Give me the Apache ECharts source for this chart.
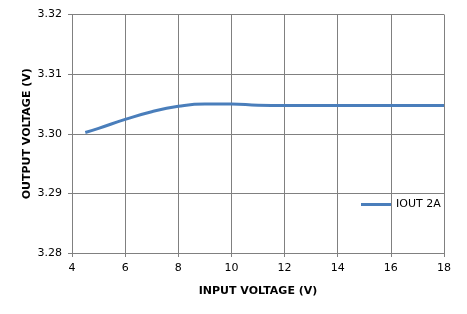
<!DOCTYPE html>
<html><head><meta charset="utf-8">
<script src="https://cdn.jsdelivr.net/npm/echarts@6/dist/echarts.min.js"></script>
<style>html,body{margin:0;padding:0;background:#fff}#c{width:467px;height:314px}</style>
</head><body><div id="c"></div>
<script>
const seriesName = 'IOUT 2A';
const inputVoltage = [4.5, 5, 6, 7, 8, 9, 10, 11, 12, 13, 14, 15, 16, 17, 18];
const outputVoltage = [3.3002, 3.3009, 3.3024, 3.3037, 3.3046, 3.3050, 3.3050, 3.3048, 3.30475, 3.30475, 3.30475, 3.30475, 3.30475, 3.30475, 3.30475];
const xTitle = 'INPUT VOLTAGE (V)';
const yTitle = 'OUTPUT VOLTAGE (V)';

const chart = echarts.init(document.getElementById('c'));
const font = 'Tahoma, "DejaVu Sans", sans-serif';
chart.setOption({
  animation: false,
  grid: {left: 72, top: 14.5, width: 372, height: 238.5, containLabel: false},
  xAxis: {
    type: 'value', min: 4, max: 18, interval: 2,
    name: xTitle, nameLocation: 'middle', nameGap: 33,
    nameTextStyle: {fontFamily: font, fontSize: 11, fontWeight: 'bold', color: '#000'},
    axisLine: {show: false},
    axisTick: {show: true, length: 4, lineStyle: {color: '#808080'}},
    axisLabel: {fontFamily: font, fontSize: 11, color: '#000', margin: 10},
    splitLine: {show: true, lineStyle: {color: '#808080', width: 1}}
  },
  yAxis: {
    type: 'value', min: 3.28, max: 3.32, interval: 0.01,
    name: yTitle, nameLocation: 'middle', nameGap: 39, nameMoveOverlap: false,
    nameTextStyle: {fontFamily: font, fontSize: 11, fontWeight: 'bold', color: '#000'},
    axisLine: {show: false},
    axisTick: {show: true, length: 4, lineStyle: {color: '#808080'}},
    axisLabel: {fontFamily: font, fontSize: 11, color: '#000', margin: 10, formatter: v => v.toFixed(2)},
    splitLine: {show: true, lineStyle: {color: '#808080', width: 1}}
  },
  legend: {
    left: 361, top: 199, padding: 0, itemWidth: 30, itemHeight: 3, itemGap: 0,
    icon: 'rect',
    textStyle: {fontFamily: font, fontSize: 11, color: '#000'},
    data: [seriesName]
  },
  series: [{
    name: seriesName, type: 'line', smooth: true, showSymbol: false,
    lineStyle: {color: '#4a7ebb', width: 3},
    itemStyle: {color: '#4a7ebb'},
    data: inputVoltage.map((x, i) => [x, outputVoltage[i]])
  }]
});
</script></body></html>
